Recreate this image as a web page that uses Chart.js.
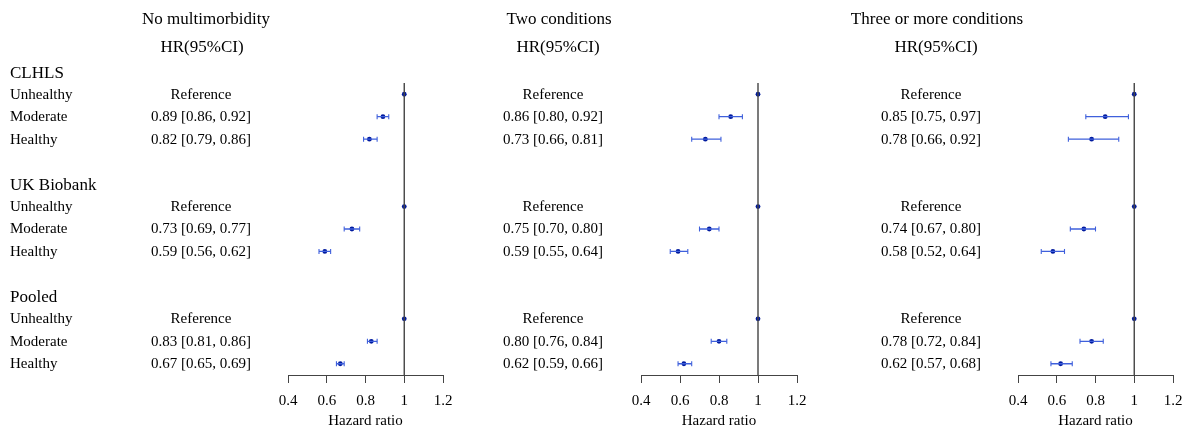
<!DOCTYPE html>
<html>
<head>
<meta charset="utf-8">
<script src="https://cdn.jsdelivr.net/npm/chart.js@4.4.1/dist/chart.umd.min.js"></script>
<style>
  body { margin: 0; background: #fff; }
  #wrap { position: relative; width: 1189px; height: 433px; overflow: hidden; }
  #wrap canvas { position: absolute; top: 0; }
</style>
</head>
<body>
<div id="wrap">
  <canvas id="p1" width="460" height="433" style="left:0px"></canvas>
  <canvas id="p2" width="360" height="433" style="left:460px"></canvas>
  <canvas id="p3" width="369" height="433" style="left:820px"></canvas>
</div>
<script>
// data
const groups = ['CLHLS', 'UK Biobank', 'Pooled'];
const levels = ['Unhealthy', 'Moderate', 'Healthy'];
const panelTitles = ['No multimorbidity', 'Two conditions', 'Three or more conditions'];
const xTicks = [0.4, 0.6, 0.8, 1, 1.2];

// order: CLHLS (U, M, H), UK Biobank (U, M, H), Pooled (U, M, H) - null = reference
const noMultiHR = [1, 0.89, 0.82, 1, 0.73, 0.59, 1, 0.83, 0.67];
const noMultiLo = [null, 0.86, 0.79, null, 0.69, 0.56, null, 0.81, 0.65];
const noMultiHi = [null, 0.92, 0.86, null, 0.77, 0.62, null, 0.86, 0.69];

const twoHR = [1, 0.86, 0.73, 1, 0.75, 0.59, 1, 0.80, 0.62];
const twoLo = [null, 0.80, 0.66, null, 0.70, 0.55, null, 0.76, 0.59];
const twoHi = [null, 0.92, 0.81, null, 0.80, 0.64, null, 0.84, 0.66];

const threeHR = [1, 0.85, 0.78, 1, 0.74, 0.58, 1, 0.78, 0.62];
const threeLo = [null, 0.75, 0.66, null, 0.67, 0.52, null, 0.72, 0.57];
const threeHi = [null, 0.97, 0.92, null, 0.80, 0.64, null, 0.84, 0.68];

const FONT = "'Liberation Serif', 'Times New Roman', serif";
const TEXT = '#000';

// layout of each panel (canvas coords)
const panels = [
  { id: 'p1', title: panelTitles[0], hr: noMultiHR, lo: noMultiLo, hi: noMultiHi,
    padL: 288, padR: 17, titleX: 206, headX: 202, colX: 201, rowLabels: true },
  { id: 'p2', title: panelTitles[1], hr: twoHR, lo: twoLo, hi: twoHi,
    padL: 181, padR: 23, titleX: 99, headX: 98, colX: 93, rowLabels: false },
  { id: 'p3', title: panelTitles[2], hr: threeHR, lo: threeLo, hi: threeHi,
    padL: 198, padR: 16, titleX: 117, headX: 116, colX: 111, rowLabels: false }
];

// row index on the y scale: header at g*5, levels after it
function rowOf(i) {
  const g = Math.floor(i / levels.length);
  const l = i % levels.length;
  return g * 5 + 1 + l;
}

function hrText(p, i) {
  if (p.lo[i] === null) return 'Reference';
  return p.hr[i].toFixed(2) + ' [' + p.lo[i].toFixed(2) + ', ' + p.hi[i].toFixed(2) + ']';
}

// draws titles, row labels and the HR(95%CI) column
const textColumns = {
  id: 'textColumns',
  afterDraw(chart, args, opts) {
    const p = opts.panel;
    const ctx = chart.ctx;
    const y = chart.scales.y;
    ctx.save();
    ctx.fillStyle = TEXT;
    ctx.textBaseline = 'middle';
    ctx.textAlign = 'center';
    ctx.font = '17px ' + FONT;
    ctx.fillText(p.title, p.titleX, 20);
    ctx.fillText('HR(95%CI)', p.headX, 48);

    ctx.font = '15px ' + FONT;
    p.hr.forEach((v, i) => {
      ctx.fillText(hrText(p, i), p.colX, y.getPixelForValue(rowOf(i)) + 0.5);
    });

    if (p.rowLabels) {
      ctx.textAlign = 'left';
      groups.forEach((g, gi) => {
        ctx.font = '17px ' + FONT;
        ctx.fillText(g, 10, y.getPixelForValue(gi * 5) + 1.5);
        ctx.font = '15px ' + FONT;
        levels.forEach((l, li) => {
          ctx.fillText(l, 10, y.getPixelForValue(gi * 5 + 1 + li) + 0.5);
        });
      });
    }
    ctx.restore();
  }
};

panels.forEach(p => {
  // CI segments, broken by null points
  const ciData = [];
  p.hr.forEach((v, i) => {
    if (p.lo[i] === null) return;
    ciData.push({ x: p.lo[i], y: rowOf(i) });
    ciData.push({ x: p.hi[i], y: rowOf(i) });
    ciData.push({ x: p.hi[i], y: null });
  });

  new Chart(document.getElementById(p.id), {
    type: 'scatter',
    data: {
      datasets: [
        {
          type: 'line',
          data: [{ x: 1, y: 0.5 }, { x: 1, y: 13.5 }],
          borderColor: '#444',
          borderWidth: 1.4,
          pointRadius: 0
        },
        {
          type: 'line',
          data: ciData,
          borderColor: '#3f60dc',
          borderWidth: 1.3,
          spanGaps: false,
          pointStyle: 'line',
          rotation: 90,
          pointRadius: 2.5,
          pointBorderColor: '#3f60dc',
          pointBorderWidth: 1.1
        },
        {
          data: p.hr.map((v, i) => ({ x: v, y: rowOf(i) })),
          pointRadius: 2.4,
          pointBackgroundColor: '#001a9e',
          pointBorderWidth: 0
        }
      ]
    },
    options: {
      responsive: false,
      animation: false,
      layout: { padding: { left: p.padL, right: p.padR, top: 83, bottom: 0 } },
      plugins: {
        legend: { display: false },
        tooltip: { enabled: false },
        textColumns: { panel: p }
      },
      scales: {
        x: {
          type: 'linear',
          min: 0.4,
          max: 1.2,
          afterBuildTicks: s => { s.ticks = xTicks.map(v => ({ value: v })); },
          afterFit: s => {
            s.height = 58;
            // let the layout padding alone decide the plot width
            s.paddingLeft = 0;
            s.paddingRight = 0;
          },
          ticks: {
            color: TEXT,
            font: { family: FONT, size: 15 },
            padding: 9,
            maxRotation: 0,
            callback: v => String(v)
          },
          grid: { drawOnChartArea: false, drawTicks: true, tickLength: 8, color: '#444', lineWidth: 1 },
          border: { display: true, color: '#444', width: 1 },
          title: {
            display: true,
            text: 'Hazard ratio',
            color: TEXT,
            font: { family: FONT, size: 15 },
            padding: 3
          }
        },
        y: {
          type: 'linear',
          min: 0.5,
          max: 13.5,
          reverse: true,
          display: false
        }
      }
    },
    plugins: [textColumns]
  });
});
</script>
</body>
</html>
